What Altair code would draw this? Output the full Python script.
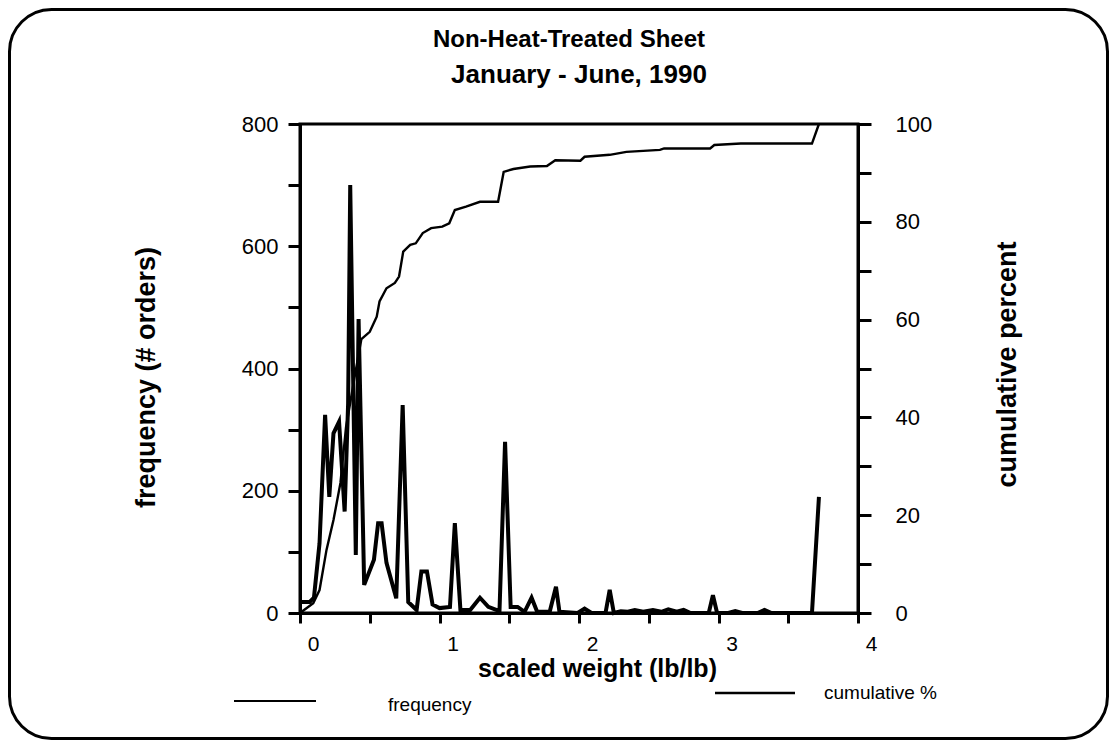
import altair as alt
import pandas as pd

# ---- data ----
freq_x = [0, 0.07, 0.10, 0.14, 0.18, 0.21, 0.24, 0.28, 0.32, 0.345, 0.36, 0.40, 0.42, 0.46, 0.53,
          0.56, 0.585, 0.62, 0.69, 0.736, 0.776, 0.836, 0.87, 0.91, 0.95, 1.0, 1.075, 1.11, 1.15, 1.22,
          1.29, 1.35, 1.43, 1.47, 1.51, 1.56, 1.61, 1.66, 1.70, 1.79, 1.835, 1.86, 1.99, 2.04, 2.09,
          2.19, 2.22, 2.25, 2.30, 2.35, 2.40, 2.46, 2.53, 2.59, 2.64, 2.70, 2.75, 2.80, 2.93, 2.96,
          2.99, 3.07, 3.12, 3.17, 3.28, 3.33, 3.38, 3.67, 3.72]
freq_y = [18, 18, 25, 114, 324, 190, 294, 313, 166, 343, 700, 95, 481, 46, 87,
          147, 147, 82, 24, 340, 18, 5, 68, 68, 14, 8, 10, 147, 5, 5,
          25, 10, 3, 280, 10, 10, 2, 25, 2, 2, 43, 2, 0, 7, 0,
          0, 38, 0, 3, 2, 5, 2, 5, 2, 6, 2, 5, 0, 0, 29,
          0, 0, 3, 0, 0, 5, 0, 0, 190]

cum_x = [0, 0.095, 0.14, 0.19, 0.24, 0.29, 0.33, 0.36, 0.39, 0.44, 0.50, 0.55, 0.57, 0.62, 0.68,
         0.71, 0.74, 0.79, 0.83, 0.88, 0.94, 1.02, 1.07, 1.11, 1.19, 1.29, 1.42, 1.46, 1.53, 1.65,
         1.77, 1.83, 2.01, 2.04, 2.22, 2.34, 2.58, 2.61, 2.94, 2.97, 3.16, 3.67, 3.72]
cum_y = [0, 2, 4.7, 12.9, 19, 26.6, 38, 43, 48, 56, 57.5, 60.6, 63.7, 66.4, 67.5,
         68.8, 73.9, 75.3, 75.6, 77.7, 78.7, 79, 79.7, 82.4, 83.1, 84.1, 84.1, 90.2, 90.8, 91.3,
         91.4, 92.6, 92.5, 93.3, 93.7, 94.3, 94.7, 95, 95, 95.7, 96, 96, 100]

x_ticks = [0, 0.5, 1, 1.5, 2, 2.5, 3, 3.5, 4]
left_ticks = [0, 100, 200, 300, 400, 500, 600, 700, 800]
right_ticks = [0, 10, 20, 30, 40, 50, 60, 70, 80, 90, 100]
legend_labels = ["frequency", "cumulative %"]
title_lines = ["Non-Heat-Treated Sheet", "January - June, 1990"]

FONT = "Liberation Sans"

freq_df = pd.DataFrame({"w": freq_x, "f": freq_y})
cum_df = pd.DataFrame({"w": cum_x, "c": cum_y})
one = alt.Data(values=[{"a": 1}])

xenc = alt.X("w:Q", scale=alt.Scale(domain=[0, 4], nice=False),
             axis=alt.Axis(values=x_ticks, format=".0f",
                           labelExpr="datum.value % 1 == 0 ? datum.label : ''",
                           title="scaled weight (lb/lb)", tickSize=10, labelPadding=10,
                           labelOffset=13, labelFlush=False, labelOverlap=False,
                           labelFontSize=21, titleFontSize=25,
                           titleX=297, titleY=55, titleAlign="center", titleBaseline="middle"))

freq = alt.Chart(freq_df).mark_line(color="black", strokeWidth=4, strokeJoin="miter").encode(
    x=xenc,
    y=alt.Y("f:Q", scale=alt.Scale(domain=[0, 800], nice=False),
            axis=alt.Axis(values=left_ticks, orient="left",
                          labelExpr="datum.value % 200 == 0 ? datum.label : ''",
                          title="frequency (# orders)", tickSize=12, labelPadding=10,
                          labelOverlap=False, labelFlush=False, titleFontSize=27,
                          titleX=-154, titleY=253, titleAngle=270,
                          titleAlign="center", titleBaseline="middle")),
)

cum = alt.Chart(cum_df).mark_line(color="black", strokeWidth=2.4).encode(
    x=alt.X("w:Q", scale=alt.Scale(domain=[0, 4], nice=False)),
    y=alt.Y("c:Q", scale=alt.Scale(domain=[0, 100], nice=False),
            axis=alt.Axis(values=right_ticks, orient="right",
                          labelExpr="datum.value % 20 == 0 ? datum.label : ''",
                          title="cumulative percent", tickSize=13, labelPadding=24,
                          labelOverlap=False, labelFlush=False, titleFontSize=27,
                          titleX=149, titleY=240, titleAngle=270,
                          titleAlign="center", titleBaseline="middle")),
)

border = alt.Chart(one).mark_rect(fill="transparent", stroke="black", strokeWidth=3,
                                  cornerRadius=42).encode(
    x=alt.value(-290.5), x2=alt.value(807.5), y=alt.value(-114.5), y2=alt.value(614.5))

title1 = alt.Chart(one).mark_text(font=FONT, fontSize=24, fontWeight="bold", align="center",
                                  baseline="middle", color="black").encode(
    x=alt.value(269), y=alt.value(-84), text=alt.value(title_lines[0]))
title2 = alt.Chart(one).mark_text(font=FONT, fontSize=26, fontWeight="bold", align="center",
                                  baseline="middle", color="black").encode(
    x=alt.value(279), y=alt.value(-49), text=alt.value(title_lines[1]))

leg1 = alt.Chart(one).mark_rule(color="black", strokeWidth=2).encode(
    x=alt.value(-66), x2=alt.value(16), y=alt.value(577))
leg2 = alt.Chart(one).mark_rule(color="black", strokeWidth=2.5).encode(
    x=alt.value(415), x2=alt.value(495), y=alt.value(569))
leg1t = alt.Chart(one).mark_text(font=FONT, fontSize=19, align="left", baseline="middle",
                                 color="black").encode(
    x=alt.value(88), y=alt.value(581), text=alt.value(legend_labels[0]))
leg2t = alt.Chart(one).mark_text(font=FONT, fontSize=19, align="left", baseline="middle",
                                 color="black").encode(
    x=alt.value(524), y=alt.value(569), text=alt.value(legend_labels[1]))

chart = alt.layer(border, freq, cum, title1, title2, leg1, leg2, leg1t, leg2t).resolve_scale(
    y="independent"
).properties(
    width=558, height=489,
    autosize=alt.AutoSizeParams(type="none"),
    padding={"left": 292, "top": 116, "right": 251, "bottom": 127},
).configure_view(
    stroke="black", strokeWidth=3
).configure_axis(
    domainColor="black", domainWidth=3, tickColor="black", tickWidth=3, grid=False,
    labelFont=FONT, labelFontSize=22, labelColor="black",
    titleFont=FONT, titleFontWeight="bold", titleColor="black",
)

chart.save("out.html", embed_options={"renderer": "svg", "actions": False})
